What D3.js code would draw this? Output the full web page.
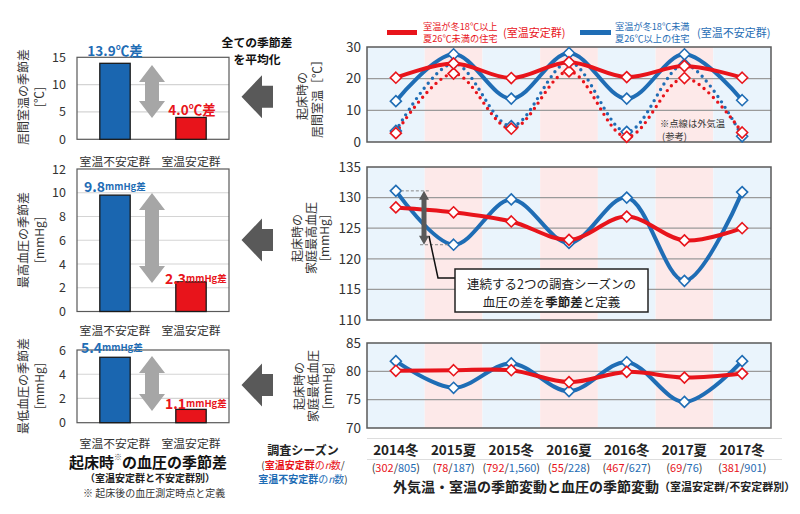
<!DOCTYPE html>
<html><head><meta charset="utf-8">
<script src="https://cdn.jsdelivr.net/npm/d3@7"></script>
<style>html,body{margin:0;padding:0;background:#fff}svg{display:block}</style>
</head><body>
<svg id="c" width="800" height="514"></svg>
<script>
// ---------- data ----------
const seasons = ["2014冬","2015夏","2015冬","2016夏","2016冬","2017夏","2017冬"];
const nStable = ["302","78","792","55","467","69","381"];
const nUnstable = ["805","187","1,560","228","627","76","901"];
const roomStable = [20.3,24.8,20.2,25.2,20.5,24.0,20.3];
const roomUnstable = [12.9,27.7,13.7,28.1,13.7,27.7,13.2];
const outdoorStable = [2.8,21.6,4.2,22.3,1.6,20.2,3.0];
const outdoorUnstable = [3.5,24.8,5.0,25.2,3.2,24.5,1.8];
const sbpStable = [128.4,127.6,126.1,123.1,126.9,123.0,125.0];
const sbpUnstable = [131.1,122.3,129.7,122.6,130.0,116.4,130.9];
const dbpStable = [80.1,80.2,80.2,78.1,79.9,78.9,79.6];
const dbpUnstable = [81.8,77.1,81.4,76.5,81.6,74.6,81.8];
const roomTicks = [0,10,20,30];
const sbpTicks = [110,115,120,125,130,135];
const dbpTicks = [70,75,80,85];

const groups = ["室温不安定群","室温安定群"];
const roomDiff = [13.9, 4.0];
const sbpDiff = [9.8, 2.5];
const dbpDiff = [5.4, 1.1];
const roomDiffLabels = ["13.9℃差","4.0℃差"];
const sbpDiffLabels = ["9.8","2.3"];
const dbpDiffLabels = ["5.4","1.1"];
const roomDiffTicks = [0,5,10,15];
const sbpDiffTicks = [0,2,4,6,8,10,12];
const dbpDiffTicks = [0,2,4,6];

// ---------- style ----------
const RED="#e8141b", BLUE="#1f6db5", BARBLUE="#1a66b0";
const PINK="#fde9e9", LBLUE="#eaf4fc";
const FONT="'Noto Sans CJK JP','Noto Sans',sans-serif";
const svg=d3.select("#c").attr("font-family",FONT);

// ---------- right panels ----------
const x=d3.scaleBand().domain(seasons).range([367,771]).padding(0);
const xc=s=>x(s)+x.bandwidth()/2;

function diamond(g,data,y,color){
  g.selectAll(null).data(data).enter().append("path")
   .attr("d","M0,-5.5L5.5,0L0,5.5L-5.5,0Z")
   .attr("transform",(d,i)=>`translate(${xc(seasons[i])},${y(d)})`)
   .attr("fill","#fff").attr("stroke",color).attr("stroke-width",1.6);
}
function panel(y0,y1,domain,ticks){
  const y=d3.scaleLinear().domain(domain).range([y1,y0]);
  const g=svg.append("g");
  seasons.forEach((s,i)=>g.append("rect").attr("x",x(s)).attr("y",y0)
    .attr("width",x.bandwidth()).attr("height",y1-y0).attr("fill",i%2?PINK:LBLUE));
  ticks.filter(t=>t!==domain[0]&&t!==domain[1]).forEach(t=>
    g.append("line").attr("x1",367).attr("x2",771).attr("y1",y(t)).attr("y2",y(t))
     .attr("stroke","#9a9a9a").attr("stroke-width",1.2));
  g.append("rect").attr("x",367).attr("y",y0).attr("width",404).attr("height",y1-y0)
   .attr("fill","none").attr("stroke","#595959").attr("stroke-width",1.5);
  const ax=g.append("g").attr("transform","translate(367,0)")
   .call(d3.axisLeft(y).tickValues(ticks).tickSize(0).tickPadding(6).tickFormat(d3.format("d")));
  ax.select(".domain").remove();
  ax.selectAll("text").attr("font-family",FONT).attr("font-size",13.5).attr("fill","#333");
  return {y,g};
}
function curve(g,data,y,color,dotted){
  const l=d3.line().x((d,i)=>xc(seasons[i])).y(d=>y(d)).curve(d3.curveCatmullRom.alpha(0.5));
  const p=g.append("path").attr("d",l(data)).attr("fill","none").attr("stroke",color);
  if(dotted) p.attr("stroke-width",3.4).attr("stroke-dasharray","0 6.4").attr("stroke-linecap","round");
  else p.attr("stroke-width",4);
}
function vlabel(lines,cx,cy,size,gap){
  const n=lines.length;
  lines.forEach((t,i)=>{
    svg.append("text").attr("transform",`translate(${cx+(i-(n-1)/2)*gap},${cy}) rotate(-90)`)
     .attr("text-anchor","middle").attr("dominant-baseline","central")
     .attr("font-size",size).attr("fill","#333").text(t);
  });
}

// top panel: room temperature
const P1=panel(47,142,[0,30],roomTicks);
curve(P1.g,outdoorUnstable,P1.y,BLUE,true);
curve(P1.g,outdoorStable,P1.y,RED,true);
diamond(P1.g,outdoorUnstable,P1.y,BLUE);
diamond(P1.g,outdoorStable,P1.y,RED);
curve(P1.g,roomUnstable,P1.y,BLUE,false);
diamond(P1.g,roomUnstable,P1.y,BLUE);
curve(P1.g,roomStable,P1.y,RED,false);
diamond(P1.g,roomStable,P1.y,RED);
P1.g.append("text").attr("x",660).attr("y",122.5).attr("dominant-baseline","central")
  .attr("font-size",9.3).attr("fill","#333").text("※点線は外気温");
P1.g.append("text").attr("x",662).attr("y",136).attr("dominant-baseline","central")
  .attr("font-size",9.3).attr("fill","#333").text("(参考)");
vlabel(["起床時の","居間室温［℃］"],309,96,12,15);

// middle panel: SBP
const P2=panel(167,320,[110,135],sbpTicks);
curve(P2.g,sbpUnstable,P2.y,BLUE,false);
diamond(P2.g,sbpUnstable,P2.y,BLUE);
curve(P2.g,sbpStable,P2.y,RED,false);
diamond(P2.g,sbpStable,P2.y,RED);
vlabel(["起床時の","家庭最高血圧","[mmHg]"],310,238,12,13.5);
// season-difference illustration
{
  const g=P2.g, y=P2.y;
  const yt=y(sbpUnstable[0]), yb=y(sbpUnstable[1]);
  g.append("line").attr("x1",xc(seasons[0])+5).attr("x2",430).attr("y1",yt).attr("y2",yt)
   .attr("stroke","#888").attr("stroke-dasharray","3,2");
  g.append("line").attr("x1",420).attr("x2",xc(seasons[1])-5).attr("y1",yb).attr("y2",yb)
   .attr("stroke","#888").attr("stroke-dasharray","3,2");
  const ax=424;
  g.append("path").attr("fill","#595959")
   .attr("d",`M${ax},${yt}L${ax+5},${yt+9}L${ax+2.5},${yt+9}L${ax+2.5},${yb-9}L${ax+5},${yb-9}L${ax},${yb}L${ax-5},${yb-9}L${ax-2.5},${yb-9}L${ax-2.5},${yt+9}L${ax-5},${yt+9}Z`);
  g.append("path").attr("d","M429,236L438,278L455,278").attr("fill","none")
   .attr("stroke","#111").attr("stroke-width",1.5);
  g.append("rect").attr("x",455).attr("y",269).attr("width",193).attr("height",43)
   .attr("fill","#fff").attr("stroke","#222").attr("stroke-width",1.5);
  g.append("text").attr("x",551.5).attr("y",283).attr("text-anchor","middle").attr("dominant-baseline","central")
   .attr("font-size",12.5).attr("fill","#222").text("連続する2つの調査シーズンの");
  const t=g.append("text").attr("x",551.5).attr("y",300.5).attr("text-anchor","middle").attr("dominant-baseline","central")
   .attr("font-size",12.5).attr("fill","#222");
  t.append("tspan").text("血圧の差を");
  t.append("tspan").attr("font-weight","bold").text("季節差");
  t.append("tspan").text("と定義");
}

// bottom panel: DBP
const P3=panel(343,428,[70,85],dbpTicks);
curve(P3.g,dbpUnstable,P3.y,BLUE,false);
diamond(P3.g,dbpUnstable,P3.y,BLUE);
curve(P3.g,dbpStable,P3.y,RED,false);
diamond(P3.g,dbpStable,P3.y,RED);
vlabel(["起床時の","家庭最低血圧","[mmHg]"],312,386,12,14);

// category axis under right panels
svg.append("line").attr("x1",367).attr("x2",782).attr("y1",438.5).attr("y2",438.5).attr("stroke","#ddd");
svg.append("line").attr("x1",367).attr("x2",782).attr("y1",459.5).attr("y2",459.5).attr("stroke","#ddd");
seasons.forEach((s,i)=>{
  svg.append("text").attr("x",xc(s)).attr("y",448.5).attr("text-anchor","middle").attr("dominant-baseline","central")
   .attr("font-size",13.5).attr("font-weight","bold").attr("fill","#222").text(s);
  const t=svg.append("text").attr("x",xc(s)).attr("y",466.5).attr("text-anchor","middle").attr("dominant-baseline","central")
   .attr("font-size",11).attr("fill","#333");
  t.append("tspan").text("(");
  t.append("tspan").attr("fill",RED).text(nStable[i]);
  t.append("tspan").text("/");
  t.append("tspan").attr("fill",BLUE).text(nUnstable[i]);
  t.append("tspan").text(")");
});
svg.append("text").attr("x",303).attr("y",449).attr("text-anchor","middle").attr("dominant-baseline","central")
 .attr("font-size",12).attr("font-weight","bold").attr("fill","#222").text("調査シーズン");
{
  const t1=svg.append("text").attr("x",303).attr("y",464).attr("text-anchor","middle").attr("dominant-baseline","central").attr("font-size",10);
  t1.append("tspan").attr("fill","#333").text("(");
  t1.append("tspan").attr("fill",RED).attr("font-weight","bold").text("室温安定群");
  t1.append("tspan").attr("fill",RED).text("の");
  t1.append("tspan").attr("fill",RED).attr("font-style","italic").text("n");
  t1.append("tspan").attr("fill",RED).text("数");
  t1.append("tspan").attr("fill","#333").text("/");
  const t2=svg.append("text").attr("x",303).attr("y",477.5).attr("text-anchor","middle").attr("dominant-baseline","central").attr("font-size",10);
  t2.append("tspan").attr("fill",BLUE).attr("font-weight","bold").text("室温不安定群");
  t2.append("tspan").attr("fill",BLUE).text("の");
  t2.append("tspan").attr("fill",BLUE).attr("font-style","italic").text("n");
  t2.append("tspan").attr("fill",BLUE).text("数");
  t2.append("tspan").attr("fill","#333").text(")");
}
{
  const t=svg.append("text").attr("x",393).attr("y",486).attr("dominant-baseline","central").attr("fill","#222").attr("font-weight","bold");
  t.append("tspan").attr("font-size",14).text("外気温・室温の季節変動と血圧の季節変動");
  t.append("tspan").attr("font-size",11).text("（室温安定群/不安定群別）");
}

// legend
svg.append("line").attr("x1",387).attr("x2",417).attr("y1",32.5).attr("y2",32.5).attr("stroke",RED).attr("stroke-width",5);
svg.append("line").attr("x1",580).attr("x2",611).attr("y1",32.5).attr("y2",32.5).attr("stroke",BLUE).attr("stroke-width",5);
[["室温が冬18℃以上","夏26℃未満の住宅",423,RED,"(室温安定群)",503],
 ["室温が冬18℃未満","夏26℃以上の住宅",615,BLUE,"(室温不安定群)",697]].forEach(l=>{
  svg.append("text").attr("x",l[2]).attr("y",25.5).attr("dominant-baseline","central").attr("font-size",9.2).attr("fill",l[3]).text(l[0]);
  svg.append("text").attr("x",l[2]).attr("y",38).attr("dominant-baseline","central").attr("font-size",9.2).attr("fill",l[3]).text(l[1]);
  svg.append("text").attr("x",l[5]).attr("y",32).attr("dominant-baseline","central").attr("font-size",11).attr("fill",l[3]).text(l[4]);
});

// ---------- left bar charts ----------
const xb=d3.scaleBand().domain(groups).range([77,229]).paddingInner(0.6).paddingOuter(0.3);
function barChart(y0,y1,max,ticks,vals,labelFn,arrow,catY,ylab,labY){
  const y=d3.scaleLinear().domain([0,max]).range([y1,y0]);
  const g=svg.append("g");
  g.append("rect").attr("x",77).attr("y",y0).attr("width",152).attr("height",y1-y0).attr("fill","#fff");
  ticks.filter(t=>t!==0&&t!==max).forEach(t=>g.append("line").attr("x1",77).attr("x2",229)
    .attr("y1",y(t)).attr("y2",y(t)).attr("stroke","#d4d4d4").attr("stroke-width",1.2));
  g.append("rect").attr("x",77).attr("y",y0).attr("width",152).attr("height",y1-y0)
   .attr("fill","none").attr("stroke","#595959").attr("stroke-width",1.2);
  const ax=g.append("g").attr("transform","translate(77,0)")
   .call(d3.axisLeft(y).tickValues(ticks).tickSize(0).tickPadding(11).tickFormat(d3.format("d")));
  ax.select(".domain").remove();
  ax.selectAll("text").attr("font-family",FONT).attr("font-size",12.5).attr("fill","#333");
  g.selectAll(null).data(vals).enter().append("rect")
   .attr("x",(d,i)=>xb(groups[i])).attr("width",xb.bandwidth())
   .attr("y",d=>y(d)).attr("height",d=>y1-y(d))
   .attr("fill",(d,i)=>i?RED:BARBLUE).attr("stroke","#1a1a1a").attr("stroke-width",1.3);
  labelFn(g,y);
  // gray double arrow
  const ax0=152, at=arrow[0], ab=arrow[1], hw=13, hh=17, sw=7;
  g.append("path").attr("fill","#a6a6a6")
   .attr("d",`M${ax0},${at}L${ax0+hw},${at+hh}L${ax0+sw},${at+hh}L${ax0+sw},${ab-hh}L${ax0+hw},${ab-hh}L${ax0},${ab}L${ax0-hw},${ab-hh}L${ax0-sw},${ab-hh}L${ax0-sw},${at+hh}L${ax0-hw},${at+hh}Z`);
  groups.forEach(gr=>svg.append("text").attr("x",xb(gr)+xb.bandwidth()/2).attr("y",catY)
    .attr("text-anchor","middle").attr("dominant-baseline","central").attr("font-size",11.8).attr("fill","#333").text(gr));
  vlabel(ylab,30,labY,12,16);
}
function mmLabel(g,x0,yy,num,color){
  const t=g.append("text").attr("x",x0).attr("y",yy).attr("dominant-baseline","central").attr("font-weight","bold").attr("fill",color);
  t.append("tspan").attr("font-size",14).text(num);
  t.append("tspan").attr("font-size",9.5).text("mmHg差");
}
barChart(57.3,139.3,15,roomDiffTicks,roomDiff,(g,y)=>{
  g.append("text").attr("x",115).attr("y",50).attr("text-anchor","middle").attr("dominant-baseline","central")
   .attr("font-size",13.5).attr("font-weight","bold").attr("fill",BLUE).text(roomDiffLabels[0]);
  g.append("text").attr("x",192).attr("y",109).attr("text-anchor","middle").attr("dominant-baseline","central")
   .attr("font-size",13.5).attr("font-weight","bold").attr("fill",RED).text(roomDiffLabels[1]);
},[65,118],160,["居間室温の季節差","[℃]"],97);
barChart(169,311.5,12,sbpDiffTicks,sbpDiff,(g,y)=>{
  mmLabel(g,84,186,sbpDiffLabels[0],BLUE);
  mmLabel(g,165,277.5,sbpDiffLabels[1],RED);
},[193,283],329.5,["最高血圧の季節差","[mmHg]"],240);
barChart(350,422.7,6,dbpDiffTicks,dbpDiff,(g,y)=>{
  mmLabel(g,81,346.5,dbpDiffLabels[0],BLUE);
  mmLabel(g,165,402.5,dbpDiffLabels[1],RED);
},[356,411],442.5,["最低血圧の季節差","[mmHg]"],386);

// left titles
{
  const t=svg.append("text").attr("x",148).attr("y",461).attr("text-anchor","middle").attr("dominant-baseline","central")
   .attr("font-weight","bold").attr("fill","#111");
  t.append("tspan").attr("font-size",15).text("起床時");
  t.append("tspan").attr("font-size",8).attr("dy",-5).attr("font-weight","normal").attr("fill","#555").text("※");
  t.append("tspan").attr("font-size",15).attr("dy",5).text("の血圧の季節差");
  svg.append("text").attr("x",150).attr("y",477.5).attr("text-anchor","middle").attr("dominant-baseline","central")
   .attr("font-size",10).attr("font-weight","bold").attr("fill","#222").text("（室温安定群と不安定群別）");
  svg.append("text").attr("x",83).attr("y",492).attr("dominant-baseline","central")
   .attr("font-size",10).attr("fill","#333").text("※ 起床後の血圧測定時点と定義");
}

// dark arrows pointing left
[96.7,240,385].forEach(cy=>{
  svg.append("path").attr("fill","#595959")
   .attr("d",`M241.5,${cy}L262,${cy-21.5}L262,${cy-11}L273,${cy-11}L273,${cy+11}L262,${cy+11}L262,${cy+21.5}Z`);
});
svg.append("text").attr("x",257).attr("y",41.5).attr("text-anchor","middle").attr("dominant-baseline","central")
 .attr("font-size",11.8).attr("font-weight","bold").attr("fill","#111").text("全ての季節差");
svg.append("text").attr("x",257).attr("y",58).attr("text-anchor","middle").attr("dominant-baseline","central")
 .attr("font-size",11.8).attr("font-weight","bold").attr("fill","#111").text("を平均化");
</script>
</body></html>
